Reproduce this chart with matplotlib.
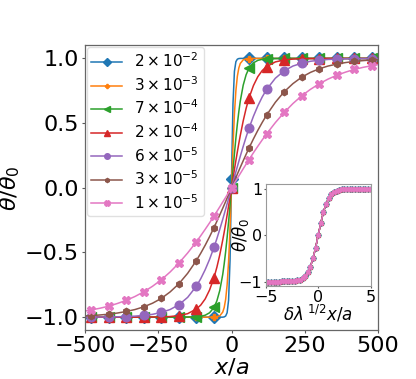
import matplotlib
matplotlib.use("Agg")
import matplotlib.pyplot as plt

# ---------------- data ----------------
labels = [r'$2\times10^{-2}$', r'$3\times10^{-3}$', r'$7\times10^{-4}$',
          r'$2\times10^{-4}$', r'$6\times10^{-5}$', r'$3\times10^{-5}$',
          r'$1\times10^{-5}$']

x_line = [-500, -480, -450, -420, -390, -360, -330, -300, -270, -240, -210, -180,
          -150, -120, -105, -90, -75, -60, -50, -40, -30, -25, -20, -15, -10, -5,
          0,
          5, 10, 15, 20, 25, 30, 40, 50, 60, 75, 90, 105, 120, 150, 180, 210, 240,
          270, 300, 330, 360, 390, 420, 450, 480, 500]

y_blue = [-1.0, -1.0, -1.0, -1.0, -1.0, -1.0, -1.0, -1.0, -1.0, -1.0, -1.0, -1.0,
          -1.0, -1.0, -1.0, -1.0, -1.0, -1.0, -1.0, -1.0, -1.0, -0.998, -0.991, -0.966, -0.869, -0.558,
          0.07,
          0.647, 0.900, 0.975, 0.994, 0.999, 1.0, 1.0, 1.0, 1.0, 1.0, 1.0, 1.0, 1.0, 1.0, 1.0, 1.0, 1.0,
          1.0, 1.0, 1.0, 1.0, 1.0, 1.0, 1.0, 1.0, 1.0]

y_orange = [-1.0, -1.0, -1.0, -1.0, -1.0, -1.0, -1.0, -1.0, -1.0, -1.0, -1.0, -1.0,
            -1.0, -1.0, -1.0, -1.0, -1.0, -0.999, -0.997, -0.989, -0.961, -0.926, -0.862, -0.751, -0.572, -0.314,
            0.0,
            0.314, 0.572, 0.751, 0.862, 0.926, 0.961, 0.989, 0.997, 0.999, 1.0, 1.0, 1.0, 1.0, 1.0, 1.0, 1.0, 1.0,
            1.0, 1.0, 1.0, 1.0, 1.0, 1.0, 1.0, 1.0, 1.0]

y_green = [-1.0, -1.0, -1.0, -1.0, -1.0, -1.0, -1.0, -1.0, -1.0, -1.0, -1.0, -1.0,
           -0.999, -0.997, -0.993, -0.985, -0.966, -0.925, -0.874, -0.793, -0.670, -0.588, -0.493, -0.384, -0.264, -0.134,
           0.0,
           0.134, 0.264, 0.384, 0.493, 0.588, 0.670, 0.793, 0.874, 0.925, 0.966, 0.985, 0.993, 0.997, 0.999, 1.0, 1.0, 1.0,
           1.0, 1.0, 1.0, 1.0, 1.0, 1.0, 1.0, 1.0, 1.0]

y_red = [-1.0, -1.0, -1.0, -1.0, -1.0, -1.0, -1.0, -0.999, -0.999, -0.998, -0.995, -0.988,
         -0.973, -0.937, -0.906, -0.859, -0.790, -0.695, -0.614, -0.517, -0.404, -0.343, -0.278, -0.211, -0.142, -0.071,
         0.0,
         0.071, 0.142, 0.211, 0.278, 0.343, 0.404, 0.517, 0.614, 0.695, 0.790, 0.859, 0.906, 0.937, 0.973, 0.988, 0.995, 0.998,
         0.999, 0.999, 1.0, 1.0, 1.0, 1.0, 1.0, 1.0, 1.0]

y_purple = [-0.999, -0.999, -0.999, -0.998, -0.997, -0.995, -0.992, -0.986, -0.978, -0.963, -0.941, -0.904,
            -0.847, -0.760, -0.702, -0.633, -0.553, -0.461, -0.393, -0.320, -0.244, -0.204, -0.164, -0.124, -0.083, -0.041,
            0.0,
            0.041, 0.083, 0.124, 0.164, 0.204, 0.244, 0.320, 0.393, 0.461, 0.553, 0.633, 0.702, 0.760, 0.847, 0.904, 0.941, 0.963,
            0.978, 0.986, 0.992, 0.995, 0.997, 0.998, 0.999, 0.999, 0.999]

y_brown = [-0.990, -0.988, -0.983, -0.977, -0.968, -0.956, -0.941, -0.920, -0.892, -0.855, -0.805, -0.742,
           -0.661, -0.562, -0.505, -0.444, -0.378, -0.308, -0.259, -0.209, -0.158, -0.132, -0.106, -0.079, -0.053, -0.026,
           0.0,
           0.026, 0.053, 0.079, 0.106, 0.132, 0.158, 0.209, 0.259, 0.308, 0.378, 0.444, 0.505, 0.562, 0.661, 0.742, 0.805, 0.855,
           0.892, 0.920, 0.941, 0.956, 0.968, 0.977, 0.983, 0.988, 0.990]

y_pink = [-0.952, -0.944, -0.931, -0.915, -0.894, -0.870, -0.840, -0.804, -0.761, -0.711, -0.651, -0.582,
          -0.504, -0.417, -0.370, -0.321, -0.271, -0.218, -0.183, -0.147, -0.110, -0.092, -0.074, -0.055, -0.037, -0.018,
          0.0,
          0.018, 0.037, 0.055, 0.074, 0.092, 0.110, 0.147, 0.183, 0.218, 0.271, 0.321, 0.370, 0.417, 0.504, 0.582, 0.651, 0.711,
          0.761, 0.804, 0.840, 0.870, 0.894, 0.915, 0.931, 0.944, 0.952]

series = [y_blue, y_orange, y_green, y_red, y_purple, y_brown, y_pink]

# inset: collapsed curve vs scaled coordinate
s_inset = [-5.0, -4.75, -4.5, -4.25, -4.0, -3.75, -3.5, -3.25, -3.0, -2.75, -2.5, -2.25, -2.0,
           -1.75, -1.5, -1.25, -1.0, -0.75, -0.5, -0.25, 0.0, 0.25, 0.5, 0.75, 1.0, 1.25, 1.5,
           1.75, 2.0, 2.25, 2.5, 2.75, 3.0, 3.25, 3.5, 3.75, 4.0, 4.25, 4.5, 4.75, 5.0]
y_inset = [-1.0, -1.0, -1.0, -1.0, -1.0, -1.0, -0.999, -0.998, -0.997, -0.995, -0.992, -0.986, -0.976,
           -0.958, -0.929, -0.880, -0.800, -0.678, -0.501, -0.268, 0.0, 0.268, 0.501, 0.678, 0.800, 0.880, 0.929,
           0.958, 0.976, 0.986, 0.992, 0.995, 0.997, 0.998, 0.999, 1.0, 1.0, 1.0, 1.0, 1.0, 1.0]

# ---------------- styles ----------------
colors = ['#1f77b4', '#ff7f0e', '#2ca02c', '#d62728', '#9467bd', '#8c564b', '#e377c2']
markers = ['D', 'P', '<', '^', 'o', 'h', 'X']
msizes = [5.8, 4.5, 6.5, 6.5, 6.2, 4.6, 5.6]

marker_idx = [i for i, xv in enumerate(x_line) if xv % 60 == 0]

fig = plt.figure(figsize=(4.16, 3.79), dpi=100)
ax = fig.add_axes([0.205, 0.129, 0.703, 0.751])

for ys, c, m, ms, lab in zip(series, colors, markers, msizes, labels):
    ax.plot(x_line, ys, color=c, marker=m, markersize=ms, lw=1.1,
            markevery=marker_idx, label=lab)

ax.set_xlim(-500, 500)
ax.set_ylim(-1.1, 1.1)
ax.set_xticks([-500, -250, 0, 250, 500])
ax.set_yticks([-1.0, -0.5, 0.0, 0.5, 1.0])
ax.tick_params(labelsize=16, length=2.5, pad=2, color='0.35')
ax.set_xlabel(r'$x/a$', fontsize=16, labelpad=0)
ax.set_ylabel(r'$\theta/\theta_0$', fontsize=16, labelpad=2)
for sp in ax.spines.values():
    sp.set_color('0.4')
    sp.set_linewidth(0.9)

leg = ax.legend(loc='upper left', fontsize=11, markerscale=0.65,
                borderaxespad=0.1, borderpad=0.3, handletextpad=0.8,
                labelspacing=0.32)
leg.get_frame().set_edgecolor('0.85')

# inset
axi = fig.add_axes([0.639, 0.245, 0.252, 0.269])
for c, m in zip(colors, markers):
    axi.plot(s_inset, y_inset, color=c, marker=m, markersize=2.8, lw=1.0)
axi.set_xlim(-5, 5)
axi.set_ylim(-1.1, 1.1)
axi.set_xticks([-5, 0, 5])
axi.set_yticks([-1, 0, 1])
axi.tick_params(labelsize=11.5, length=1.5, pad=1, color='0.35')
axi.set_xlabel(r'$\delta\lambda^{\;1/2}x/a$', fontsize=12, labelpad=-1)
axi.set_ylabel(r'$\theta/\theta_0$', fontsize=12, labelpad=-9)
for sp in axi.spines.values():
    sp.set_color('0.6')
    sp.set_linewidth(0.8)

fig.savefig('out.png', dpi=100)
